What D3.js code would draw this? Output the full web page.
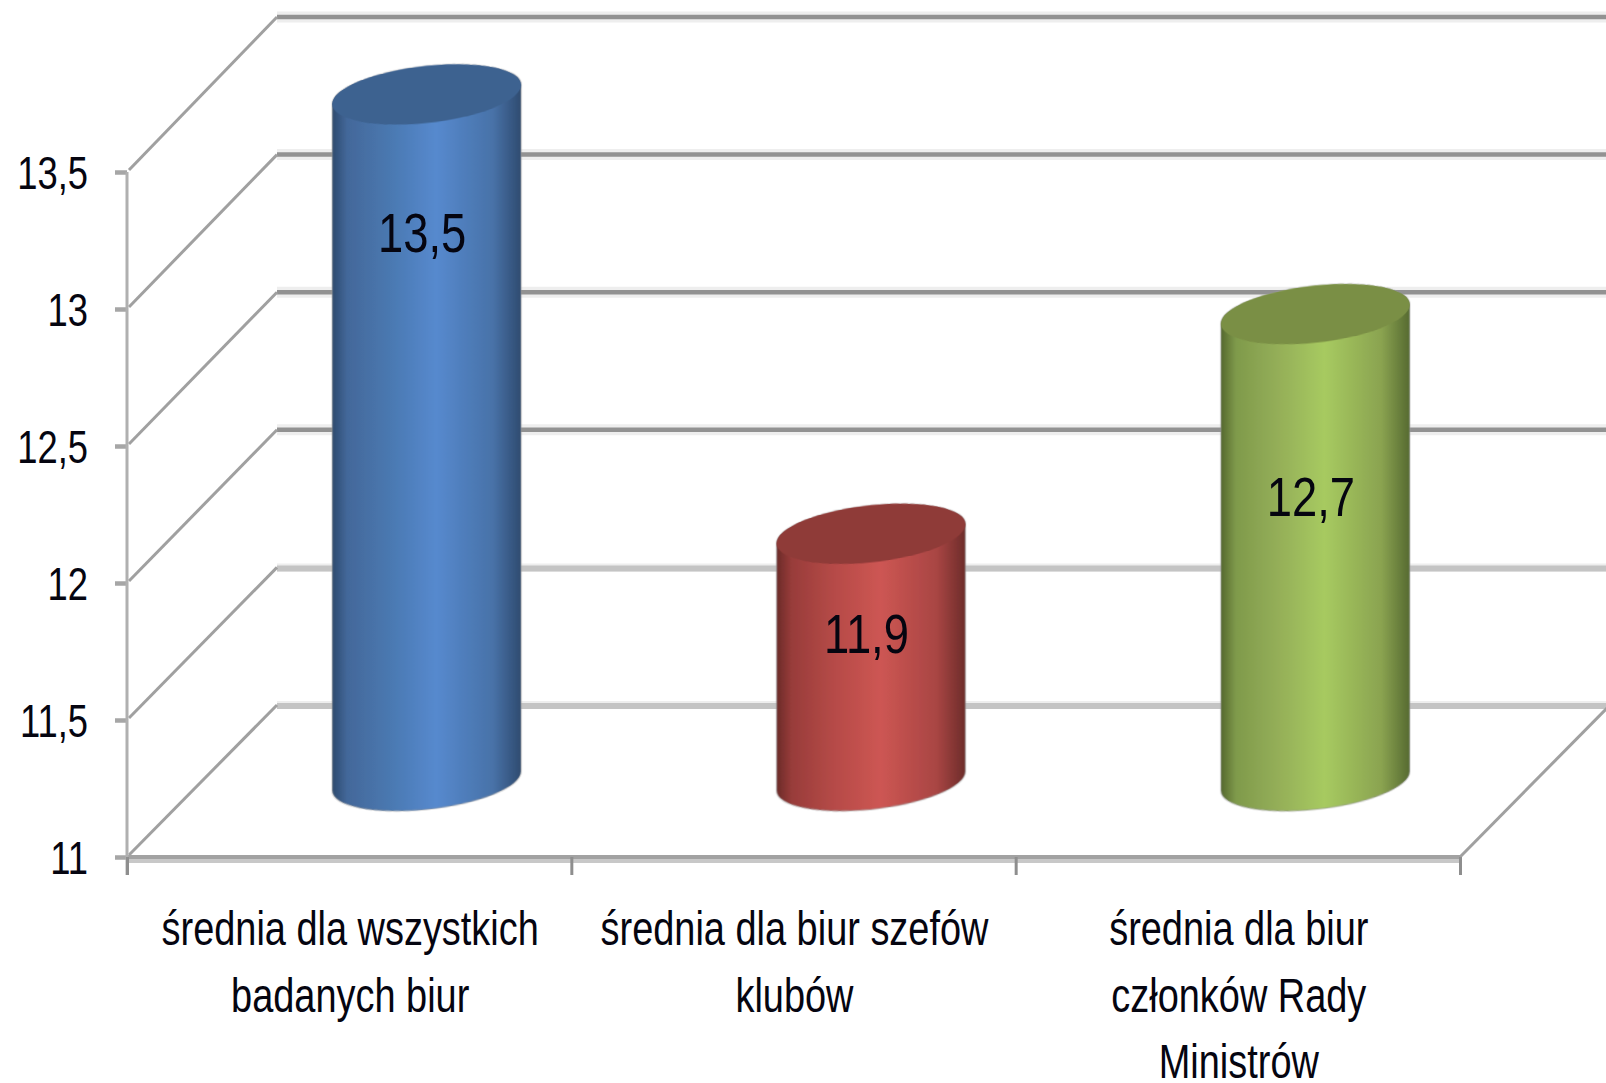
<!DOCTYPE html>
<html><head><meta charset="utf-8">
<script src="https://cdn.jsdelivr.net/npm/d3@7"></script>
<style>html,body{margin:0;padding:0;background:#fff;overflow:hidden}svg{display:block}
text{font-family:"Liberation Sans",sans-serif;fill:#050510}</style>
</head><body><svg id="c" width="1606" height="1083"></svg>
<script>
const categories=[["średnia dla wszystkich","badanych biur"],["średnia dla biur szefów","klubów"],["średnia dla biur","członków Rady","Ministrów"]];
const values=[13.5,11.9,12.7];
const valueLabels=["13,5","11,9","12,7"];
const yTicks=[11,11.5,12,12.5,13,13.5];
const bodyGradients=[
 ["#2d4a6e","#43689a","#4a78b0","#5689ce","#4872a8","#2f4b70"],
 ["#6b2a28","#983c3a","#b54a47","#cd5653","#a84543","#6d2c2a"],
 ["#55682f","#7f9a4b","#94ae58","#a7ca60","#8aa350","#566a31"]];
const topColors=["#3d6290","#8f3b38","#7a8f45"];
const labelFractions=[0.2,0.4,0.39];

const svg=d3.select("#c"),defs=svg.append("defs");
const left=127,right=1460,dx=150,tilt=5.8,halfDepth=28.5,narrow=0.79,barShift=2.5;
const y=d3.scaleLinear().domain([11,13.5]).range([857,172]);
const yBack=d3.scaleLinear().domain([11,13.5]).range([705,17]);
const xTick=d3.scaleLinear().domain([0,3]).range([left,right]);
const xBand=d3.scaleBand().domain(d3.range(3)).range([left,right]);
const yMid=v=>(y(v)+yBack(v))/2;
const soft=defs.append("filter").attr("id","soft").attr("x","-5%").attr("y","-5%").attr("width","110%").attr("height","110%");
soft.append("feGaussianBlur").attr("stdDeviation",0.7);
const condense=(sel,k=narrow)=>sel.each(function(){
  this.setAttribute("textLength",this.getComputedTextLength()*k);
  this.setAttribute("lengthAdjust","spacingAndGlyphs");
});

const walls=svg.append("g").attr("filter","url(#soft)");
yTicks.forEach(t=>{
  const light=t<=11.5;
  walls.append("line").attr("x1",left+dx).attr("x2",1606).attr("y1",yBack(t)).attr("y2",yBack(t))
    .attr("stroke","#eeeeee").attr("stroke-width",light?8:11);
  walls.append("line").attr("x1",left+dx).attr("x2",1606).attr("y1",yBack(t)+(light?1:0)).attr("y2",yBack(t)+(light?1:0))
    .attr("stroke",light?"#c4c4c4":"#929292").attr("stroke-width",light?6:4.5);
  walls.append("line").attr("x1",left+2).attr("y1",y(t)-2).attr("x2",left+dx).attr("y2",yBack(t))
    .attr("stroke","#a0a0a0").attr("stroke-width",3);
});
walls.append("line").attr("x1",left).attr("x2",right).attr("y1",859).attr("y2",859).attr("stroke","#c8c8c8").attr("stroke-width",8);
walls.append("line").attr("x1",left).attr("x2",right).attr("y1",857).attr("y2",857).attr("stroke","#a2a2a2").attr("stroke-width",4);
walls.append("line").attr("x1",right).attr("y1",857).attr("x2",right+dx).attr("y2",705).attr("stroke","#a0a0a0").attr("stroke-width",3);

const axisY=d3.axisLeft(y).tickValues(yTicks).tickSize(12).tickPadding(27).tickFormat(d=>String(d).replace(".",","));
const gy=svg.append("g").attr("transform",`translate(${left},0)`).call(axisY);
gy.select(".domain").remove();
gy.append("line").attr("y1",172).attr("y2",875).attr("stroke","#b0b0b0").attr("stroke-width",3);
gy.selectAll(".tick line").attr("stroke","#a6a6a6").attr("stroke-width",4.5);
gy.selectAll("text").attr("font-size",46).attr("fill","#050510").attr("dy","0.36em")
  .attr("style",'font-family:"Liberation Sans",sans-serif').call(condense);
const axisX=d3.axisBottom(xTick).tickValues([0,1,2,3]).tickSize(18).tickFormat("");
const gx=svg.append("g").attr("transform","translate(0,857)").call(axisX);
gx.select(".domain").remove();
gx.selectAll(".tick line").attr("stroke","#8e8e8e").attr("stroke-width",3);

const catG=svg.append("g").selectAll("text").data(categories).join("text")
  .attr("text-anchor","middle").attr("font-size",48);
catG.each(function(lines,i){
  d3.select(this).selectAll("tspan").data(lines).join("tspan")
    .attr("x",xBand(i)+xBand.bandwidth()/2+1)
    .attr("y",(d,j)=>945+j*66.5).text(d=>d).call(condense);
});

const A=xBand.bandwidth()*0.2125;
const bars=svg.append("g").selectAll("g").data(values).join("g")
  .attr("transform",(d,i)=>`translate(${xBand(i)+xBand.bandwidth()/2+dx/2+barShift},${yMid(d)}) skewY(${-tilt})`);
bars.each(function(v,i){
  const g=d3.select(this),h=yMid(11)-yMid(v);
  const grad=defs.append("linearGradient").attr("id","grad"+i);
  [0,0.08,0.3,0.55,0.85,1].forEach((o,k)=>grad.append("stop").attr("offset",o).attr("stop-color",bodyGradients[i][k]));
  g.append("path")
   .attr("d",`M${-A},0 L${-A},${h} A${A},${halfDepth} 0 0 0 ${A},${h} L${A},0 A${A},${halfDepth} 0 0 0 ${-A},0 Z`)
   .attr("fill",`url(#grad${i})`).attr("stroke","#9a9a9a").attr("stroke-opacity",0.35).attr("stroke-width",2).attr("filter","url(#soft)");
  g.append("ellipse").attr("rx",A).attr("ry",halfDepth).attr("fill",topColors[i]).attr("filter","url(#soft)");
});
svg.append("g").selectAll("text").data(values).join("text")
  .attr("text-anchor","middle").attr("font-size",56).attr("dy","0.36em")
  .attr("x",(d,i)=>xBand(i)+xBand.bandwidth()/2+dx/2-2)
  .attr("y",(d,i)=>yMid(d)+(yMid(11)-yMid(d))*labelFractions[i])
  .text((d,i)=>valueLabels[i]).call(condense,0.81);
</script></body></html>
